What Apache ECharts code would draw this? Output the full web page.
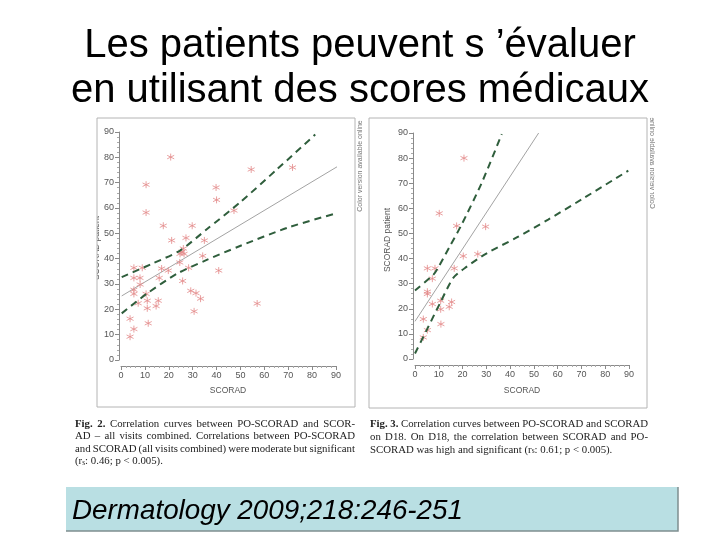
<!DOCTYPE html>
<html><head><meta charset="utf-8">
<script src="https://cdn.jsdelivr.net/npm/echarts@6/dist/echarts.min.js"></script>
<style>html,body{margin:0;padding:0;background:#fff}#c{width:720px;height:540px}</style>
</head><body><div id="c"></div>
<script>
// ---- data ----
const titleLines = ["Les patients peuvent s \u2019\u00e9valuer", "en utilisant des scores m\u00e9dicaux"];
const xTickValues = [0, 10, 20, 30, 40, 50, 60, 70, 80, 90];
const axisXName = "SCORAD";
const axisYName = "SCORAD patient";
const colorNote = "Color version available online";

// Fig. 2 : all visits combined  [SCORAD, PO-SCORAD]
const fig2Points = [[3.8,16.3],[3.8,9.2],[5.4,12.2],[5.4,36.4],[5.4,32.4],[5.4,27.7],[5.4,26.1],[7.95,32.4],[7.2,22.4],[8,29.8],[8.9,36.4],[10.5,26.1],[10.5,69.2],[10.5,58.2],[11,23.4],[11,20.4],[11.4,14.5],[14.7,21.3],[15.6,23.4],[16,32.4],[17,36.1],[17.7,53],[19.8,35.3],[20.8,80.1],[21.2,47.2],[24.6,38.5],[24.7,41.9],[25.5,42.7],[26.4,41.9],[26.1,44],[25.8,31.2],[27.2,48.2],[28.3,36.4],[29.2,27.3],[29.8,53],[30.6,19.2],[31.4,26.4],[33.3,24.2],[34.2,41.1],[34.9,47.2],[39.8,68.1],[40,63.2],[40.9,35.3],[47.3,59],[54.5,75.2],[57,22.3],[71.8,76]];
const fig2Fit = [[0.3,25.3],[93.5,78]];
const fig2Upper = [[0.3,32.7],[13.5,38.2],[24.7,43.2],[35.9,51.6],[49.8,62.2],[65,75],[81.3,89]];
const fig2Lower = [[0.3,18.4],[10.7,26.1],[23.3,34],[35.9,39.5],[49.8,45],[70,52.3],[90.4,58]];

// Fig. 3 : D18
const fig3Points = [[20.6,80],[10.2,58],[17.5,53],[29.7,52.7],[20.3,41],[26.4,41.8],[5.2,36.1],[8.4,36.1],[16.5,36.1],[7.3,32],[5.2,26.8],[5.2,25.9],[7.3,21.9],[10.8,23.2],[10.8,19.8],[14.4,20.8],[15.4,22.7],[10.9,13.9],[3.5,15.9],[5.2,11.5],[3.5,8.6]];
const fig3Fit = [[0,15],[52,90]];
const fig3Upper = [[0,27.3],[7.7,33.5],[9.5,36],[14.7,45],[19.6,53.5],[28,70],[36.5,89.6]];
const fig3Lower = [[0,2.2],[4.9,11.5],[10.5,22.2],[16.1,32.3],[21.5,36.6],[30,42],[43,48.5],[56,55.5],[70,63.5],[89.7,75]];

const caption2 = [
  "{b|Fig.} {b|2.} Correlation curves between PO-SCORAD and SCOR-",
  "AD \u2013 all visits combined. Correlations between PO-SCORAD",
  "and SCORAD (all visits combined) were moderate but significant",
  "(r{s|s}: 0.46; p < 0.005)."
];
const caption3 = [
  "{b|Fig.} {b|3.} Correlation curves between PO-SCORAD and SCORAD",
  "on D18. On D18, the correlation between SCORAD and PO-",
  "SCORAD was high and significant (r{s|s}: 0.61; p < 0.005)."
];
const citation = "Dermatology 2009;218:246-251";

// ---- chart ----
const chart = echarts.init(document.getElementById('c'), null, {renderer: 'canvas'});
const ASTER = 'path://M5,0L5,10M0.67,2.5L9.33,7.5M0.67,7.5L9.33,2.5';
const axisCol = '#8a8a8a';
function xAx(g) {
  return {type:'value', gridIndex:g, min:0, max:90, interval:10, offset:6,
    axisLine:{show:true, onZero:false, lineStyle:{color:axisCol, width:1}},
    axisTick:{show:true, length:4, lineStyle:{color:axisCol}},
    minorTick:{show:true, splitNumber:5, length:2, lineStyle:{color:'#aaa'}},
    splitLine:{show:false}, minorSplitLine:{show:false},
    axisLabel:{fontSize:9, color:'#555', margin:5, fontFamily:'Liberation Sans',
      formatter: v => xTickValues.indexOf(v) >= 0 ? String(v) : ''}};
}
function yAx(g) {
  return {type:'value', gridIndex:g, min:0, max:90, interval:10, offset:2,
    axisLine:{show:true, onZero:false, lineStyle:{color:axisCol, width:1}},
    axisTick:{show:true, length:4, lineStyle:{color:axisCol}},
    minorTick:{show:true, splitNumber:5, length:2, lineStyle:{color:'#aaa'}},
    splitLine:{show:false}, minorSplitLine:{show:false},
    axisLabel:{fontSize:9, color:'#555', margin:5, fontFamily:'Liberation Sans'}};
}
function scatter(i, data) {
  return {type:'scatter', xAxisIndex:i, yAxisIndex:i, data:data, symbol:ASTER, symbolSize:7,
    itemStyle:{color:'rgba(0,0,0,0)', borderColor:'#e38a8a', borderWidth:1}, silent:true, z:3};
}
function fitLine(i, data) {
  return {type:'line', xAxisIndex:i, yAxisIndex:i, data:data, symbol:'none', clip:false,
    lineStyle:{color:'#a3a3a3', width:1}, silent:true, z:2};
}
function band(i, data) {
  return {type:'line', xAxisIndex:i, yAxisIndex:i, data:data, symbol:'none', clip:false, smooth:0.25,
    lineStyle:{color:'#2f5e3c', width:2, type:[7,5]}, silent:true, z:4};
}

// justified caption text
const CAP_FS = 10.8, CAP_FONT = 'Liberation Serif';
const mctx = document.createElement('canvas').getContext('2d');
function segs(word) {
  const out = []; const re = /\{(\w)\|([^}]*)\}/g; let last = 0, m;
  while ((m = re.exec(word))) {
    if (m.index > last) out.push({t: word.slice(last, m.index), k: 'n'});
    out.push({t: m[2], k: m[1]}); last = re.lastIndex;
  }
  if (last < word.length) out.push({t: word.slice(last), k: 'n'});
  return out;
}
function fontOf(k) {
  if (k === 'b') return 'bold ' + CAP_FS + 'px "' + CAP_FONT + '"';
  if (k === 's') return '7.5px "' + CAP_FONT + '"';
  return CAP_FS + 'px "' + CAP_FONT + '"';
}
function wordWidth(word) {
  return segs(word).reduce((s, g) => { mctx.font = fontOf(g.k); return s + mctx.measureText(g.t).width; }, 0);
}
const richStyles = {
  b:{fontWeight:'bold', fontSize:CAP_FS, fontFamily:CAP_FONT, fill:'#222'},
  s:{fontSize:7.5, fontFamily:CAP_FONT, fill:'#222', verticalAlign:'bottom'}
};
function captionText(lines, x, width, y0, dy) {
  const els = [];
  mctx.font = fontOf('n'); const sp = mctx.measureText(' ').width;
  lines.forEach((line, k) => {
    const words = line.split(' ');
    const ws = words.map(wordWidth);
    const total = ws.reduce((a, b) => a + b, 0);
    const justify = k < lines.length - 1 && words.length > 1;
    const gap = justify ? (width - total) / (words.length - 1) : sp;
    let cx = x;
    words.forEach((w, j) => {
      els.push({type:'text', x:cx, y:y0 + k*dy, z:10,
        style:{text:w, fontSize:CAP_FS, fontFamily:CAP_FONT, fill:'#222', verticalAlign:'middle', align:'left', rich:richStyles}});
      cx += ws[j] + gap;
    });
  });
  return els;
}

function build() {
const graphics = [
  {type:'text', x:360, y:46, z:10, style:{text:titleLines[0], fontSize:40, fontFamily:'Liberation Sans', fill:'#000', align:'center', verticalAlign:'middle'}},
  {type:'text', x:360, y:91, z:10, style:{text:titleLines[1], fontSize:40, fontFamily:'Liberation Sans', fill:'#000', align:'center', verticalAlign:'middle'}},
  // axis names
  {type:'text', x:228, y:391, z:10, style:{text:axisXName, fontSize:8.5, fontFamily:'Liberation Sans', fill:'#555', align:'center', verticalAlign:'middle'}},
  {type:'text', x:522, y:391, z:10, style:{text:axisXName, fontSize:8.5, fontFamily:'Liberation Sans', fill:'#555', align:'center', verticalAlign:'middle'}},
  {type:'text', x:97, y:248, rotation:Math.PI/2, z:10, style:{text:axisYName, fontSize:8.5, fontFamily:'Liberation Sans', fill:'#555', align:'center', verticalAlign:'middle'}},
  {type:'rect', shape:{x:0, y:200, width:97, height:100}, z:11, style:{fill:'#fff'}},
  {type:'text', x:388, y:240, rotation:Math.PI/2, z:10, style:{text:axisYName, fontSize:8.5, fontFamily:'Liberation Sans', fill:'#555', align:'center', verticalAlign:'middle'}},
  // frames
  {type:'rect', shape:{x:97, y:118, width:258, height:289}, z:12, style:{fill:'none', stroke:'#b4b4b4', lineWidth:1}},
  {type:'rect', shape:{x:369, y:118, width:278, height:290}, z:12, style:{fill:'none', stroke:'#b4b4b4', lineWidth:1}},
  // colour notes
  {type:'text', x:360, y:166, rotation:Math.PI/2, z:10, style:{text:colorNote, fontSize:7, fontFamily:'Liberation Sans', fill:'#777', align:'center', verticalAlign:'middle'}},
  {type:'text', x:652, y:163, rotation:Math.PI/2, scaleY:-1, z:10, style:{text:colorNote, fontSize:7, fontFamily:'Liberation Sans', fill:'#777', align:'center', verticalAlign:'middle'}},
  // citation box
  {type:'rect', shape:{x:66, y:487, width:612, height:44}, z:5, style:{fill:'#b9dfe3'}},
  {type:'polyline', shape:{points:[[678,487],[678,531],[66,531]]}, z:6, style:{fill:'none', stroke:'#7f8e90', lineWidth:1.5}},
  {type:'text', x:72, y:511, z:10, style:{text:citation, fontSize:27.8, fontStyle:'italic', fontFamily:'Liberation Sans', fill:'#000', align:'left', verticalAlign:'middle'}}
].concat(captionText(caption2, 75, 280, 424, 12.4), captionText(caption3, 370, 278, 424, 13));

chart.setOption({
  animation:false,
  backgroundColor:'#fff',
  grid:[
    {left:121, top:132, width:215, height:228},
    {left:415, top:133, width:214, height:226}
  ],
  xAxis:[xAx(0), xAx(1)],
  yAxis:[yAx(0), yAx(1)],
  series:[
    fitLine(0, fig2Fit), band(0, fig2Upper), band(0, fig2Lower), scatter(0, fig2Points),
    fitLine(1, fig3Fit), band(1, fig3Upper), band(1, fig3Lower), scatter(1, fig3Points)
  ],
  graphic:graphics
});
}
build();
</script></body></html>
